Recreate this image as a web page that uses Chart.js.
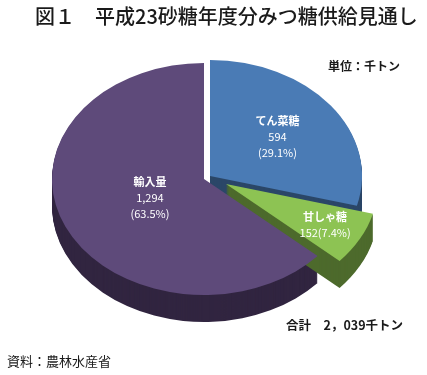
<!DOCTYPE html>
<html lang="ja">
<head>
<meta charset="utf-8">
<script src="https://cdn.jsdelivr.net/npm/chart.js@4.4.1/dist/chart.umd.min.js"></script>
<style>
  body { margin: 0; background: #fff; font-family: "Noto Sans CJK JP", sans-serif; }
  #wrap { position: relative; width: 427px; height: 375px; overflow: hidden; }
  #pie { position: absolute; left: 0; top: 0; }
  .t { position: absolute; white-space: nowrap; color: #1a1a1a; line-height: 1; }
  #title { left: 35px; top: 6px; font-size: 20px; font-weight: 500; }
  #unit { left: 328px; top: 60px; font-size: 12px; font-weight: bold; }
  #total { left: 286px; top: 319px; font-size: 12.5px; font-weight: bold; }
  #source { left: 7px; top: 354px; font-size: 13px; }
</style>
</head>
<body>
<div id="wrap">
  <canvas id="pie" width="427" height="375"></canvas>
  <div class="t" id="title">図１　平成23砂糖年度分みつ糖供給見通し</div>
  <div class="t" id="unit">単位：千トン</div>
  <div class="t" id="total">合計　2，039千トン</div>
  <div class="t" id="source">資料：農林水産省</div>
</div>
<script>
const categories = ["てん菜糖", "甘しゃ糖", "輸入量"];
const amounts = [594, 152, 1294];
const shares = ["29.1%", "7.4%", "63.5%"];

const topColors = ["#4a7bb5", "#8dc353", "#5e4a7a"];
const sideColors = ["#2b4768", "#4d6a2c", "#312540"];

// 3d look: squash the pie vertically and extrude it downwards
const tilt = 0.763;
const depth = 27;
const shifts = [[6, -3], [22, 5], [0, 0]];   // exploded slices, screen px
const labelRadius = [0.56, 0.74, 0.39];
const oneLine = [false, true, false];

function center(chart) {
  const a = chart.chartArea;
  return [(a.left + a.right) / 2, (a.top + a.bottom) / 2];
}

const pie3d = {
  id: "pie3d",
  beforeDatasetsDraw(chart) {
    const ctx = chart.ctx;
    const [cx, cy] = center(chart);
    const arcs = chart.getDatasetMeta(0).data;
    arcs.forEach((el, i) => {
      el.x = cx + shifts[i][0];
      el.y = cy + shifts[i][1] / tilt;
    });
    ctx.save();
    ctx.translate(cx, cy);
    ctx.scale(1, tilt);
    ctx.translate(-cx, -cy);
    [0, 2, 1].forEach((i) => {
      const el = arcs[i];
      const own = el.options;
      el.options = Object.assign({}, own, { backgroundColor: sideColors[i] });
      for (let d = depth; d > 0; d--) {
        ctx.save();
        ctx.translate(0, d / tilt);
        el.draw(ctx);
        ctx.restore();
      }
      el.options = own;
    });
  },
  afterDatasetsDraw(chart) {
    const ctx = chart.ctx;
    ctx.restore();
    const [cx, cy] = center(chart);
    const arcs = chart.getDatasetMeta(0).data;
    ctx.save();
    ctx.fillStyle = "#fff";
    ctx.textAlign = "center";
    ctx.textBaseline = "middle";
    arcs.forEach((el, i) => {
      const mid = (el.startAngle + el.endAngle) / 2;
      const r = el.outerRadius * labelRadius[i];
      const x = el.x + Math.cos(mid) * r;
      const y = cy + (el.y - cy + Math.sin(mid) * r) * tilt;
      const num = amounts[i].toLocaleString("en-US");
      const lines = oneLine[i]
        ? [categories[i], num + "(" + shares[i] + ")"]
        : [categories[i], num, "(" + shares[i] + ")"];
      lines.forEach((line, j) => {
        ctx.font = (j === 0 ? "bold " : "") + '11px "Noto Sans CJK JP"';
        ctx.fillText(line, x, y + (j - (lines.length - 1) / 2) * 16);
      });
    });
    ctx.restore();
  }
};

new Chart(document.getElementById("pie"), {
  type: "pie",
  data: {
    labels: categories,
    datasets: [{
      data: amounts,
      backgroundColor: topColors,
      borderWidth: 0
    }]
  },
  options: {
    responsive: false,
    animation: false,
    devicePixelRatio: 1,
    events: [],
    radius: 152,
    layout: { padding: { left: 0, right: 19, top: 0, bottom: 17 } },
    plugins: {
      legend: { display: false },
      tooltip: { enabled: false }
    }
  },
  plugins: [pie3d]
});
</script>
</body>
</html>
